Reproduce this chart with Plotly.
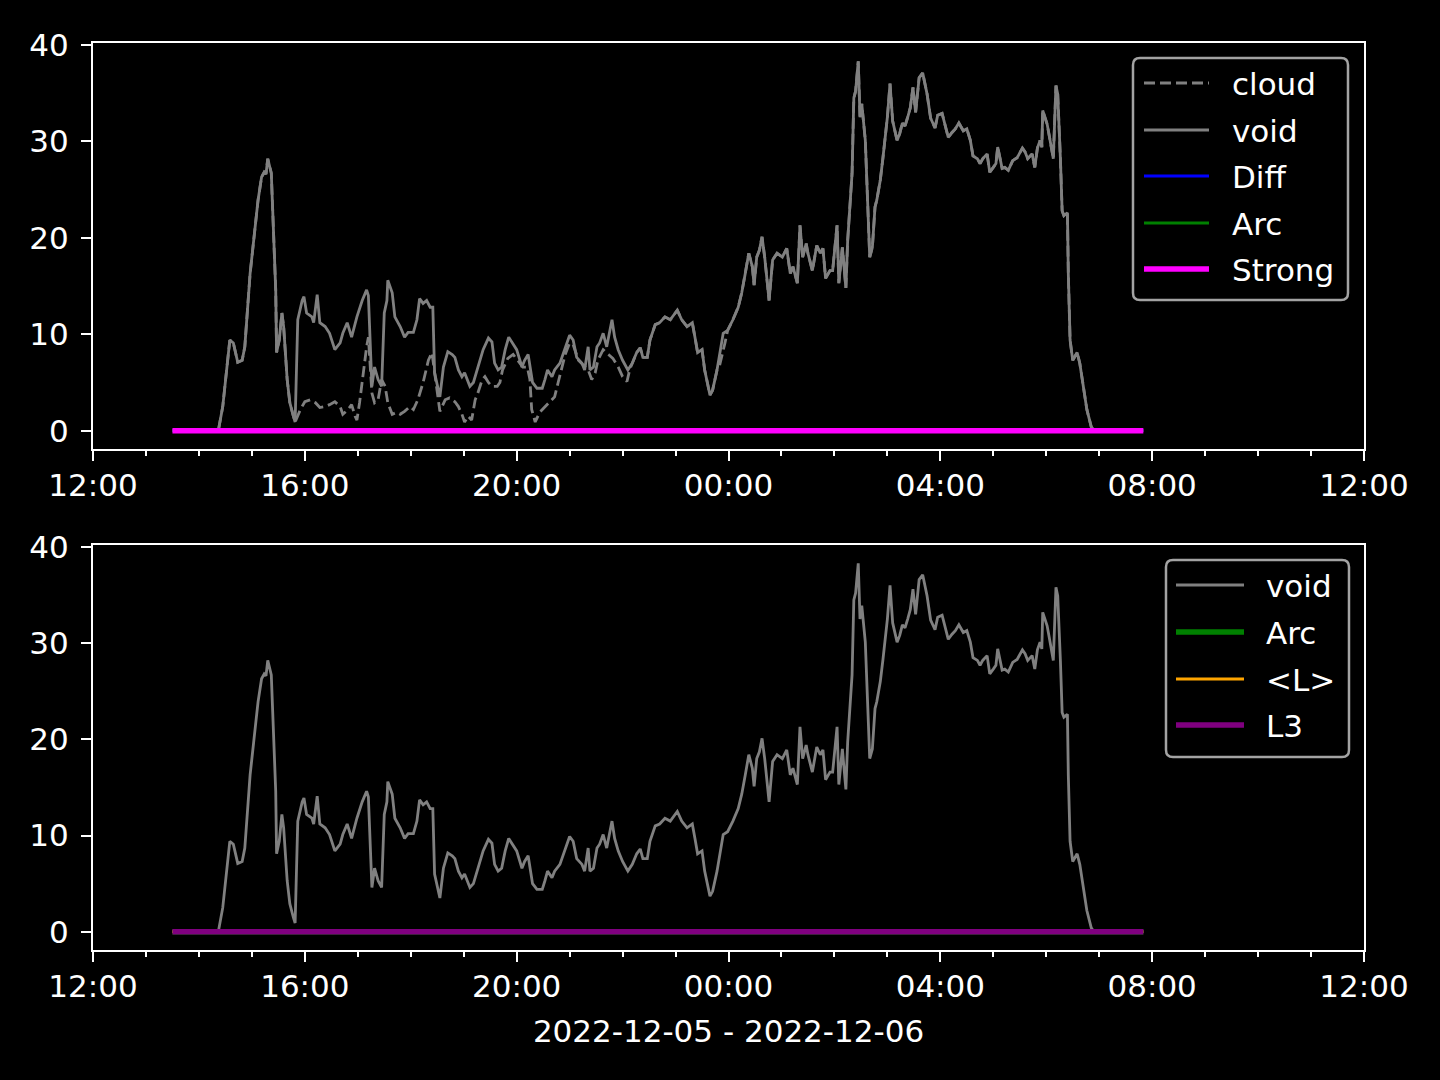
import plotly.graph_objects as go
from datetime import datetime

# ---------------- data ----------------
void_times = ["13:30","14:22","14:27","14:32","14:35","14:39","14:44","14:49","14:52","14:58",
"15:04","15:07","15:11","15:14","15:16","15:18","15:22","15:24","15:27","15:28",
"15:31","15:34","15:36","15:40","15:43","15:47","15:49","15:52","15:57","15:59",
"16:02","16:08","16:10","16:14","16:17","16:23","16:28","16:34","16:40","16:43",
"16:48","16:53","16:59","17:05","17:08","17:10","17:12","17:14","17:16","17:19",
"17:23","17:27","17:30","17:33","17:34","17:39","17:42","17:48","17:53","17:57",
"18:03","18:07","18:10","18:14","18:18","18:22","18:25","18:27","18:30","18:33",
"18:37","18:42","18:47","18:50","18:54","18:58","19:01","19:07","19:11","19:16",
"19:22","19:28","19:32","19:35","19:39","19:43","19:47","19:51","19:56","20:00",
"20:06","20:09","20:13","20:15","20:18","20:23","20:29","20:32","20:35","20:40",
"20:43","20:49","20:55","21:00","21:04","21:08","21:14","21:17","21:21","21:23",
"21:27","21:31","21:34","21:38","21:42","21:48","21:51","21:55","22:00","22:06",
"22:11","22:16","22:20","22:23","22:28","22:31","22:37","22:42","22:48","22:54",
"23:02","23:07","23:13","23:19","23:22","23:25","23:30","23:33","23:39","23:42",
"23:47","23:54","23:59","00:05","00:11","00:15","00:19","00:23","00:27","00:29",
"00:32","00:35","00:38","00:41","00:46","00:50","00:55","01:01","01:06","01:10",
"01:13","01:18","01:21","01:24","01:28","01:30","01:35","01:40","01:44","01:47",
"01:50","01:55","01:58","02:01","02:03","02:05","02:09","02:13","02:15","02:20",
"02:22","02:24","02:27","02:29","02:31","02:35","02:37","02:40","02:43","02:46",
"02:48","02:52","02:55","03:00","03:03","03:06","03:11","03:14","03:17","03:20",
"03:23","03:26","03:29","03:32","03:36","03:40","03:45","03:49","03:54","03:57",
"04:02","04:05","04:09","04:13","04:17","04:21","04:26","04:30","04:34","04:37",
"04:42","04:45","04:48","04:53","04:56","05:00","05:03","05:05","05:10","05:13",
"05:17","05:22","05:27","05:33","05:36","05:39","05:44","05:47","05:50","05:53",
"05:55","05:56","06:01","06:03","06:07","06:08","06:11","06:13","06:16","06:18",
"06:20","06:24","06:25","06:27","06:30","06:35","06:38","06:42","06:46","06:51",
"06:54","07:50"]

void_vals = [0,0,2.5,6.6,9.4,9.1,7.1,7.3,8.7,16.3,
21.5,23.9,26.3,26.8,26.6,28.2,26.7,21.5,14.6,8.1,
9.4,12.2,10.8,5.3,2.9,1.5,0.9,11.5,13.5,13.9,
12.2,11.8,11.2,14.1,11.2,10.8,10.1,8.4,9.1,10.1,
11.2,9.7,11.8,13.5,14.3,14.6,14.0,8.1,4.6,6.6,
5.3,4.6,12.2,13.5,15.6,14.3,11.8,10.8,9.7,10.2,
10.2,11.5,13.7,13.2,13.5,12.8,12.8,6.0,4.6,3.5,
6.6,8.2,7.9,7.6,6.3,5.6,6.0,4.6,5.0,6.6,
8.4,9.6,9.2,7.0,6.3,6.6,8.4,9.7,8.9,8.4,
6.6,7.3,7.9,6.6,5.0,4.4,4.4,5.3,6.3,5.6,
6.3,7.0,8.7,9.9,9.4,7.6,7.0,6.3,8.7,6.3,
6.6,8.7,9.1,10.1,8.7,11.5,9.7,8.4,7.3,6.3,
7.0,8.1,8.6,7.6,7.6,9.4,11.0,11.2,11.8,11.5,
12.5,11.5,10.8,11.2,9.7,8.1,8.4,6.3,3.7,4.2,
6.3,10.1,10.4,11.5,12.8,14.3,16.3,18.4,17.0,15.1,
18.0,18.7,20.1,18.0,13.5,17.7,18.4,18.0,18.9,16.3,
17.0,15.3,21.3,18.0,19.4,18.4,16.6,19.2,18.4,18.9,
15.8,16.6,16.6,19.7,21.3,15.3,19.0,14.8,19.7,26.7,
34.5,35.2,38.3,32.5,33.9,30.1,24.9,18.0,19.0,23.2,
23.9,26.0,28.3,32.5,36.0,32.1,30.1,30.8,31.9,31.6,
32.5,33.5,35.6,33.0,36.6,37.1,34.9,32.4,31.4,32.7,
32.9,31.8,30.4,30.9,31.3,31.9,31.1,31.3,30.1,28.5,
28.2,27.7,28.2,28.7,26.8,27.3,27.7,29.4,27.2,27.3,
27.0,28.0,28.3,29.3,28.9,28.2,28.7,27.3,29.3,30.1,
29.4,33.2,31.8,30.8,28.7,28.2,35.8,34.9,28.3,22.8,
22.3,22.6,16.3,9.4,7.3,8.1,7.0,4.6,2.2,0.4,
0,0]

# cloud follows void except where it separates (dashed line below void)
cloud_a_times = ["15:49","15:55","16:00","16:06","16:12","16:17","16:23","16:28","16:34","16:40",
"16:43","16:49","16:53","16:57","16:59","17:02","17:06","17:10","17:12","17:14",
"17:16","17:19","17:23","17:27","17:31","17:34","17:39","17:44","17:48","17:53",
"17:59","18:03","18:08","18:14","18:20","18:24","18:27","18:31","18:33","18:39",
"18:44","18:50","18:54","18:58","19:01","19:05","19:09","19:13","19:16","19:21",
"19:24","19:28","19:32","19:38","19:41","19:44","19:50","19:56","20:01","20:07",
"20:12","20:15","20:17","20:21","20:26","20:32","20:38","20:43","20:47","20:51",
"20:55","21:00","21:04","21:10","21:15","21:21","21:25","21:29","21:32","21:38",
"21:44","21:49","21:55","22:00","22:05","22:08","22:11"]
cloud_a_vals = [0.9,2.2,3.0,3.2,2.9,2.4,2.5,2.7,3.0,2.5,
1.7,2.2,2.7,1.5,1.1,2.9,6.0,8.7,9.7,6.6,
3.9,2.9,3.2,5.3,4.6,2.9,1.7,1.9,1.7,2.0,
2.5,2.2,3.2,5.0,7.3,8.1,6.0,2.9,2.0,3.2,
3.4,3.0,2.5,1.7,0.9,1.5,1.1,3.2,3.9,5.3,
5.6,5.0,4.6,4.6,5.0,6.3,7.5,7.9,7.3,6.6,
6.6,5.3,2.2,0.9,1.9,2.5,3.0,3.5,5.0,6.6,
7.9,9.1,8.9,7.3,6.8,6.3,5.3,6.0,7.3,8.4,
7.9,7.5,6.6,5.6,5.1,6.3,7.0]
cloud_b_times = ["23:47","23:50","23:56","23:59"]
cloud_b_vals = [6.3,6.8,9.1,10.4]

zero_times = ["13:30","07:50"]
diff_vals = [0,0]
arc_vals = [0,0]
strong_vals = [0,0]
meanl_vals = [0,0]
l3_vals = [0,0]

x_start = "2022-12-05 12:00"
x_end = "2022-12-06 12:00"
x_title = "2022-12-05 - 2022-12-06"
y_ticks = [0, 10, 20, 30, 40]


def to_dt(s):
    h, m = map(int, s.split(":"))
    return datetime(2022, 12, 5 if h >= 12 else 6, h, m)


void_t = [to_dt(s) for s in void_times]
zero_t = [to_dt(s) for s in zero_times]

segs = [([to_dt(s) for s in cloud_a_times], cloud_a_vals),
        ([to_dt(s) for s in cloud_b_times], cloud_b_vals)]
pts = []
for t, v in zip(void_t, void_vals):
    if any(st[0] <= t <= st[-1] for st, _ in segs):
        continue
    pts.append((t, v))
for st, sv in segs:
    pts.extend(zip(st, sv))
pts.sort(key=lambda p: p[0])
cloud_t = [p[0] for p in pts]
cloud_v = [p[1] for p in pts]

GRAY = "#808080"
FONT = "DejaVu Sans"
FS = 31
LW = 2.8

fig = go.Figure()
# top panel
fig.add_trace(go.Scatter(x=cloud_t, y=cloud_v, name="cloud", mode="lines",
                         line=dict(color=GRAY, width=LW, dash="11px,5px"), xaxis="x", yaxis="y"))
fig.add_trace(go.Scatter(x=void_t, y=void_vals, name="void", mode="lines",
                         line=dict(color=GRAY, width=LW), xaxis="x", yaxis="y"))
fig.add_trace(go.Scatter(x=zero_t, y=diff_vals, name="Diff", mode="lines",
                         line=dict(color="#0000ff", width=LW), xaxis="x", yaxis="y"))
fig.add_trace(go.Scatter(x=zero_t, y=arc_vals, name="Arc", mode="lines",
                         line=dict(color="#008000", width=LW), xaxis="x", yaxis="y"))
fig.add_trace(go.Scatter(x=zero_t, y=strong_vals, name="Strong", mode="lines",
                         line=dict(color="#ff00ff", width=5.6), xaxis="x", yaxis="y"))
# bottom panel
fig.add_trace(go.Scatter(x=void_t, y=void_vals, name="void", mode="lines",
                         line=dict(color=GRAY, width=LW), xaxis="x2", yaxis="y2"))
fig.add_trace(go.Scatter(x=zero_t, y=arc_vals, name="Arc", mode="lines",
                         line=dict(color="#008000", width=5.6), xaxis="x2", yaxis="y2"))
fig.add_trace(go.Scatter(x=zero_t, y=meanl_vals, name="<L>", mode="lines",
                         line=dict(color="#ffa500", width=LW), xaxis="x2", yaxis="y2"))
fig.add_trace(go.Scatter(x=zero_t, y=l3_vals, name="L3", mode="lines",
                         line=dict(color="#800080", width=5.6), xaxis="x2", yaxis="y2"))

# geometry (pixels)
L, R, T, B = 93, 1364, 43, 950
W, H = R - L, B - T


def px(x):
    return (x - L) / W


def py(y):
    return (B - y) / H


top_dom = [py(449), 1.0]
bot_dom = [0.0, py(545)]

xaxis_common = dict(
    type="date", range=[x_start, x_end], tick0=x_start, dtick=4 * 3600000,
    tickformat="%H:%M", showgrid=False, zeroline=False,
    showline=True, linecolor="white", linewidth=2, mirror=True,
    ticks="outside", ticklen=10, tickwidth=2, tickcolor="white",
    tickfont=dict(family=FONT, size=FS, color="white"),
    minor=dict(ticks="outside", ticklen=5, tickwidth=2, tickcolor="white",
               dtick=3600000, tick0=x_start, showgrid=False),
    ticklabelstandoff=-2,
)
yaxis_common = dict(
    range=[-1.9, 40.2], tickvals=y_ticks, showgrid=False, zeroline=False,
    showline=True, linecolor="white", linewidth=2, mirror=True,
    ticks="outside", ticklen=10, tickwidth=2, tickcolor="white",
    tickfont=dict(family=FONT, size=FS, color="white"),
    ticklabelstandoff=6,
)

shapes = []
annotations = []


def rrect(x0, y0, x1, y1, r=7):
    # pixel rect -> rounded paper path
    def P(x, y):
        return f"{px(x):.6f},{py(y):.6f}"
    return (f"M {P(x0 + r, y0)} L {P(x1 - r, y0)} Q {P(x1, y0)} {P(x1, y0 + r)} "
            f"L {P(x1, y1 - r)} Q {P(x1, y1)} {P(x1 - r, y1)} "
            f"L {P(x0 + r, y1)} Q {P(x0, y1)} {P(x0, y1 - r)} "
            f"L {P(x0, y0 + r)} Q {P(x0, y0)} {P(x0 + r, y0)} Z")


def legend(box, lx0, lx1, tx, rows):
    x0, y0, x1, y1 = box
    shapes.append(dict(type="path", xref="paper", yref="paper", path=rrect(x0, y0, x1, y1),
                       fillcolor="rgba(0,0,0,0.8)", line=dict(color="rgb(163,163,163)", width=2.5),
                       layer="above"))
    for (label, color, width, dash, yy) in rows:
        shapes.append(dict(type="line", xref="paper", yref="paper",
                           x0=px(lx0), x1=px(lx1), y0=py(yy), y1=py(yy),
                           line=dict(color=color, width=width, dash=dash), layer="above"))
        annotations.append(dict(xref="paper", yref="paper", x=px(tx), y=py(yy + 1),
                                text=label, showarrow=False, xanchor="left", yanchor="middle",
                                font=dict(family=FONT, size=FS, color="white")))


legend((1133, 58, 1348, 300), 1144, 1209, 1230, [
    ("cloud", GRAY, LW, "11px,5px", 83),
    ("void", GRAY, LW, "solid", 130),
    ("Diff", "#0000ff", LW, "solid", 176),
    ("Arc", "#008000", LW, "solid", 223),
    ("Strong", "#ff00ff", 5.6, "solid", 269),
])
legend((1166, 560, 1349, 757), 1176, 1244, 1264, [
    ("void", GRAY, LW, "solid", 585),
    ("Arc", "#008000", 5.6, "solid", 632),
    ("&lt;L&gt;", "#ffa500", LW, "solid", 679),
    ("L3", "#800080", 5.6, "solid", 725),
])

fig.update_layout(
    width=1440, height=1080,
    margin=dict(l=L, r=1440 - R, t=T, b=1080 - B, pad=0),
    paper_bgcolor="black", plot_bgcolor="black",
    font=dict(family=FONT, size=FS, color="white"),
    showlegend=False,
    xaxis=dict(domain=[0, 1], anchor="y", **xaxis_common),
    yaxis=dict(domain=top_dom, anchor="x", **yaxis_common),
    xaxis2=dict(domain=[0, 1], anchor="y2",
                title=dict(text=x_title, font=dict(family=FONT, size=FS, color="white"), standoff=17),
                **xaxis_common),
    yaxis2=dict(domain=bot_dom, anchor="x2", **yaxis_common),
    shapes=shapes,
    annotations=annotations,
)

fig.write_html("out.html", config={"displayModeBar": False},
               post_script="document.body.style.margin='0';document.body.style.background='black';")
